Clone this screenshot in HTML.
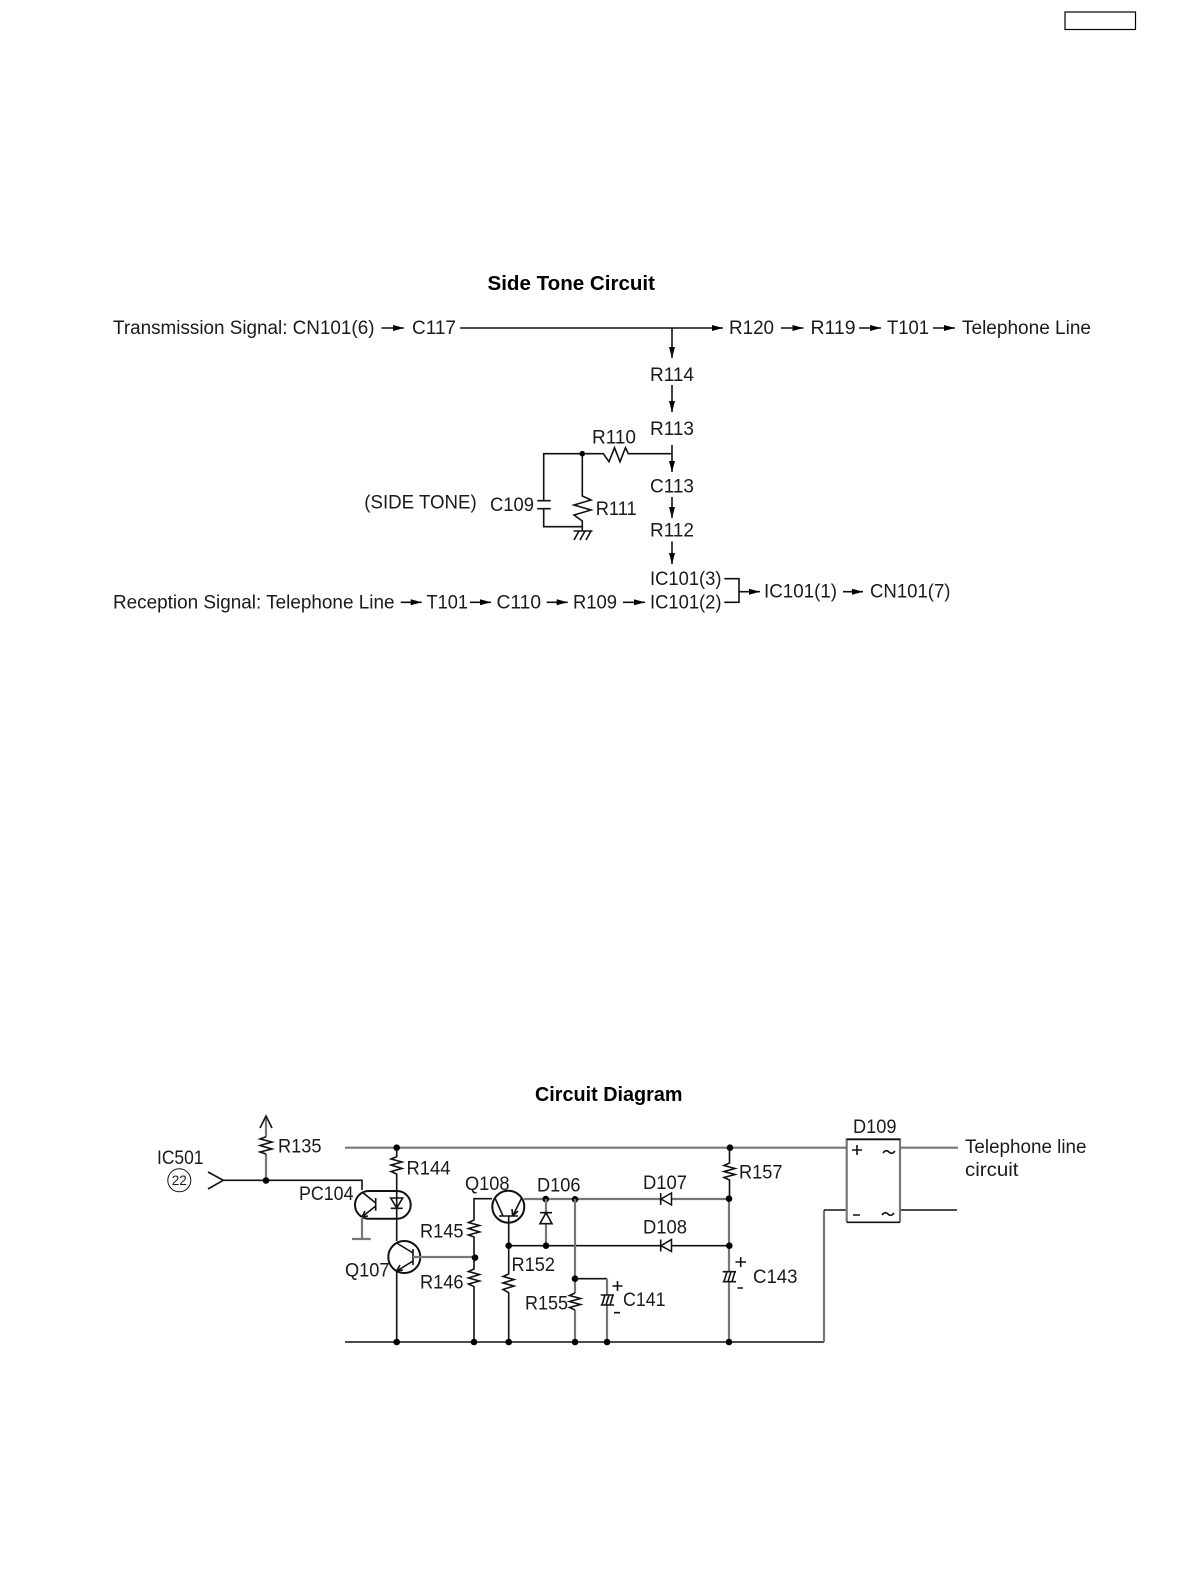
<!DOCTYPE html>
<html><head><meta charset="utf-8"><style>
html,body{margin:0;padding:0;background:#fff}
svg{display:block}
text{font-family:"Liberation Sans",sans-serif;font-size:19px;fill:#1a1a1a}
.t{font-weight:bold;font-size:20.500px;fill:#000}
.k{fill:none;stroke:#111;stroke-width:1.600}
.g{fill:none;stroke:#777;stroke-width:2.200}
.a{fill:none;stroke:#111;stroke-width:1.600;marker-end:url(#h)}
.n{fill:#000;stroke:none}
</style></head><body>
<svg width="1192" height="1584" viewBox="0 0 1192 1584" xmlns="http://www.w3.org/2000/svg">
<defs><marker id="h" markerUnits="userSpaceOnUse" markerWidth="12" markerHeight="8" refX="11" refY="4" orient="auto"><path d="M0 1L11 4L0 7Z" fill="#000"/></marker></defs>
<rect x="1065" y="12" width="70.500" height="17.500" fill="none" stroke="#000" stroke-width="1.200"/>

<text class="t" x="487.500" y="290" textLength="167.500" lengthAdjust="spacingAndGlyphs">Side Tone Circuit</text>
<text x="113" y="334" textLength="261.500" lengthAdjust="spacingAndGlyphs">Transmission Signal: CN101(6)</text>
<path class="a" d="M381.500 328H404"/>
<text x="412" y="334" textLength="44" lengthAdjust="spacingAndGlyphs">C117</text>
<path class="a" d="M460 328H723"/>
<text x="729" y="334" textLength="45" lengthAdjust="spacingAndGlyphs">R120</text>
<path class="a" d="M781 328H803.500"/>
<text x="810.500" y="334" textLength="45" lengthAdjust="spacingAndGlyphs">R119</text>
<path class="a" d="M859 328H881"/>
<text x="887" y="334" textLength="42" lengthAdjust="spacingAndGlyphs">T101</text>
<path class="a" d="M933 328H955"/>
<text x="962" y="334" textLength="129" lengthAdjust="spacingAndGlyphs">Telephone Line</text>

<path class="a" d="M672 328V358"/>
<text x="650" y="381" textLength="44" lengthAdjust="spacingAndGlyphs">R114</text>
<path class="a" d="M672 385V412"/>
<text x="650" y="435" textLength="44" lengthAdjust="spacingAndGlyphs">R113</text>
<path class="a" d="M672 445V472"/>
<text x="592" y="443.300" textLength="44" lengthAdjust="spacingAndGlyphs">R110</text>
<path class="k" d="M672 453.700H628.300L625.500 447.700L620 461.700L614.500 447.700L609 461.700L603.300 453.700H543.700V500.700M537.300 500.700H550.700M537.300 508.700H550.700M543.700 508.700V526.700H582.300M582.300 453.700V496L591 500L574 505L591 510L574 515L582.300 521V530.700"/>
<circle class="n" cx="582.300" cy="453.700" r="2.800"/>
<path class="k" d="M573.500 531H592.500M574 540L579 531M580 540L585 531M586 540L591 531"/>
<text x="364.300" y="508.300" textLength="112.400" lengthAdjust="spacingAndGlyphs">(SIDE TONE)</text>
<text x="490" y="511" textLength="44" lengthAdjust="spacingAndGlyphs">C109</text>
<text x="595.700" y="515" textLength="41" lengthAdjust="spacingAndGlyphs">R111</text>
<text x="650" y="492.300" textLength="44" lengthAdjust="spacingAndGlyphs">C113</text>
<path class="a" d="M672 497V518"/>
<text x="650" y="536.700" textLength="44" lengthAdjust="spacingAndGlyphs">R112</text>
<path class="a" d="M672 541.500V564"/>
<text x="650" y="585" textLength="71.500" lengthAdjust="spacingAndGlyphs">IC101(3)</text>
<text x="650" y="608.500" textLength="71.500" lengthAdjust="spacingAndGlyphs">IC101(2)</text>
<path class="k" d="M724.300 578.700H739V602.300H724.300"/>
<path class="a" d="M739 591.700H760"/>
<text x="764" y="597.600" textLength="73" lengthAdjust="spacingAndGlyphs">IC101(1)</text>
<path class="a" d="M843 591.700H863"/>
<text x="870" y="597.600" textLength="80.500" lengthAdjust="spacingAndGlyphs">CN101(7)</text>
<text x="113" y="608.500" textLength="281.500" lengthAdjust="spacingAndGlyphs">Reception Signal: Telephone Line</text>
<path class="a" d="M400.700 602.300H421.700"/>
<text x="426.500" y="608.500" textLength="41.500" lengthAdjust="spacingAndGlyphs">T101</text>
<path class="a" d="M470 602.300H491"/>
<text x="496.500" y="608.500" textLength="44.500" lengthAdjust="spacingAndGlyphs">C110</text>
<path class="a" d="M546.700 602.300H567.700"/>
<text x="573" y="608.500" textLength="44" lengthAdjust="spacingAndGlyphs">R109</text>
<path class="a" d="M623 602.300H645"/>

<text class="t" x="535" y="1101" textLength="147.500" lengthAdjust="spacingAndGlyphs">Circuit Diagram</text>

<!-- rails -->
<path class="g" d="M345 1147.700H847M900 1147.700H958"/>
<path class="k" d="M345 1342H824"/>
<path class="g" d="M824 1342V1210"/>
<path class="k" d="M824 1210H847M900 1210H957"/>
<path class="g" d="M846.700 1222.300V1139.300H900V1222.300"/>
<path class="k" d="M846.700 1139.300H900M846.700 1222.300H900"/>
<text x="853" y="1133" textLength="43.500" lengthAdjust="spacingAndGlyphs">D109</text>
<path class="k" stroke-width="2" d="M852 1150H862M857 1145V1155M853 1215H860"/>
<path class="k" d="M883 1153Q886 1149 889 1152T895 1151M882 1215Q885 1211 888 1214T894 1213"/>
<text x="965" y="1153" textLength="121.500" lengthAdjust="spacingAndGlyphs">Telephone line</text>
<text x="965" y="1176" textLength="53.500" lengthAdjust="spacingAndGlyphs">circuit</text>

<!-- input -->
<text x="157" y="1164" textLength="46.500" lengthAdjust="spacingAndGlyphs">IC501</text>
<circle cx="179.300" cy="1180.300" r="11.500" fill="none" stroke="#111" stroke-width="1"/>
<text x="179.300" y="1185" text-anchor="middle" style="font-size:13.500px">22</text>
<path class="k" d="M208 1172L223.300 1180.300L208 1189M223.300 1180.300H362V1190"/>
<path class="g" d="M266 1180V1154M266 1136.700V1117"/>
<path class="k" d="M260 1128L266 1116L272 1128M266 1136.700L260 1139L272 1142L260 1145.500L272 1149L260 1152L266 1154"/>
<circle class="n" cx="266" cy="1180.500" r="3.300"/>
<text x="278" y="1152.700" textLength="43.500" lengthAdjust="spacingAndGlyphs">R135</text>

<!-- R144 PC104 Q107 -->
<circle class="n" cx="396.700" cy="1147.700" r="3.300"/>
<path class="k" d="M396.700 1147.700V1156.700L391 1159L402 1162L391 1165L402 1168.500L391 1171.500L396.700 1174V1241"/>
<text x="406.500" y="1174.300" textLength="44" lengthAdjust="spacingAndGlyphs">R144</text>
<text x="299" y="1200" textLength="54.500" lengthAdjust="spacingAndGlyphs">PC104</text>
<rect x="355" y="1191" width="55.700" height="27.700" rx="13.800" fill="none" stroke="#111" stroke-width="2"/>
<path class="k" d="M390.700 1198H402.700L396.700 1208ZM390.700 1208.300H402.700M375.700 1198V1210.700M375.700 1203L362 1192M375.700 1206L362 1217M362 1217L368 1216M362 1217L365 1211"/>
<path class="g" d="M362 1217V1239M352 1239H370.700"/>
<circle cx="404.300" cy="1257" r="16" fill="none" stroke="#111" stroke-width="2"/>
<path class="k" d="M413 1249V1265M413 1253L396.700 1243M413 1261L396.700 1271M396.700 1271L403 1270M396.700 1271L400 1265M396.700 1271V1342"/>
<path class="g" d="M413 1257H474"/>
<circle class="n" cx="475" cy="1257.700" r="3.300"/>
<text x="345" y="1276.700" textLength="44.500" lengthAdjust="spacingAndGlyphs">Q107</text>
<text x="420" y="1237.700" textLength="43.500" lengthAdjust="spacingAndGlyphs">R145</text>
<text x="420" y="1288.300" textLength="43.500" lengthAdjust="spacingAndGlyphs">R146</text>
<path class="k" d="M492 1198.700H474V1220L468.500 1222.500L479.500 1225.500L468.500 1228.500L479.500 1232L468.500 1235L474 1237V1269L468.500 1271.500L479.500 1274.500L468.500 1278L479.500 1281L468.500 1284L474 1286.700V1342"/>

<!-- Q108 -->
<circle cx="508.300" cy="1206.700" r="16" fill="none" stroke="#111" stroke-width="2"/>
<path class="k" d="M499 1216H518M503 1216L495 1198M512.700 1216L521.700 1198M512.700 1216L512 1209M512.700 1216L518 1211M508.700 1216V1274L503 1276.500L514 1279.500L503 1283L514 1286L503 1289.500L508.700 1292.700V1342"/>
<text x="465" y="1190" textLength="44.500" lengthAdjust="spacingAndGlyphs">Q108</text>
<path class="g" d="M524 1199H729"/>
<circle class="n" cx="545.700" cy="1199" r="3.300"/><circle class="n" cx="575" cy="1199.300" r="3.300"/>
<path class="g" d="M546 1199V1213M546 1224V1245.700"/>
<path class="k" d="M540 1212.700H552M540 1223.700H552L546 1212.700Z"/>
<text x="537" y="1191.700" textLength="43.500" lengthAdjust="spacingAndGlyphs">D106</text>
<path class="k" d="M508.700 1245.700H729"/>
<circle class="n" cx="508.700" cy="1245.700" r="3.300"/><circle class="n" cx="546" cy="1245.700" r="3.300"/>
<path d="M671.500 1193V1205L661 1199Z" fill="#fff" stroke="#111" stroke-width="1.500"/><path class="k" d="M660.700 1193V1205"/>
<path d="M671.500 1239.500V1251.500L661 1245.700Z" fill="#fff" stroke="#111" stroke-width="1.500"/><path class="k" d="M660.700 1239.500V1251.500"/>
<text x="643" y="1189" textLength="44" lengthAdjust="spacingAndGlyphs">D107</text>
<text x="643" y="1233.300" textLength="44" lengthAdjust="spacingAndGlyphs">D108</text>
<text x="511.500" y="1271" textLength="43.500" lengthAdjust="spacingAndGlyphs">R152</text>

<!-- R155 C141 -->
<path class="g" d="M575 1199V1293M575 1310V1342"/>
<path class="k" d="M575 1293L569.500 1295.500L580.500 1298.500L569.500 1301.500L580.500 1304.500L569.500 1307.500L575 1310"/>
<circle class="n" cx="575" cy="1278.700" r="3.300"/>
<path class="k" d="M575 1278.700H607"/>
<path class="g" d="M607 1278.700V1295M607 1305V1342"/>
<path class="k" d="M600.700 1295H614M600.700 1305H614M602 1305L605 1295M606 1305L609 1295M610 1305L613 1295"/>
<text x="525" y="1309.300" textLength="43" lengthAdjust="spacingAndGlyphs">R155</text>
<text x="623" y="1306" textLength="42.500" lengthAdjust="spacingAndGlyphs">C141</text>
<path class="k" d="M612.500 1286H622.500M617.500 1281V1291M614 1312.700H620"/>

<!-- R157 C143 -->
<circle class="n" cx="730" cy="1147.700" r="3.300"/>
<path class="k" d="M729.500 1147.700V1163L724 1165.500L735 1168.500L724 1171.500L735 1174.500L724 1177.500L729.500 1180V1199"/>
<text x="739" y="1178.300" textLength="43.500" lengthAdjust="spacingAndGlyphs">R157</text>
<path class="g" d="M729 1199V1271.700M729 1281.700V1342"/>
<circle class="n" cx="729" cy="1198.700" r="3.300"/><circle class="n" cx="729.300" cy="1245.700" r="3.300"/>
<path class="k" d="M722.700 1271.700H736M722.700 1281.700H736M724 1281.700L727 1271.700M728 1281.700L731 1271.700M732 1281.700L735 1271.700"/>
<path class="k" d="M735.500 1262H746M740.700 1257V1267M737.500 1288H743"/>
<text x="753" y="1283" textLength="44.500" lengthAdjust="spacingAndGlyphs">C143</text>

<!-- bottom rail nodes -->
<circle class="n" cx="396.700" cy="1342" r="3.300"/><circle class="n" cx="474" cy="1342" r="3.300"/><circle class="n" cx="508.700" cy="1342" r="3.300"/><circle class="n" cx="575" cy="1342" r="3.300"/><circle class="n" cx="607" cy="1342" r="3.300"/><circle class="n" cx="729" cy="1342" r="3.300"/>
</svg>
</body></html>
